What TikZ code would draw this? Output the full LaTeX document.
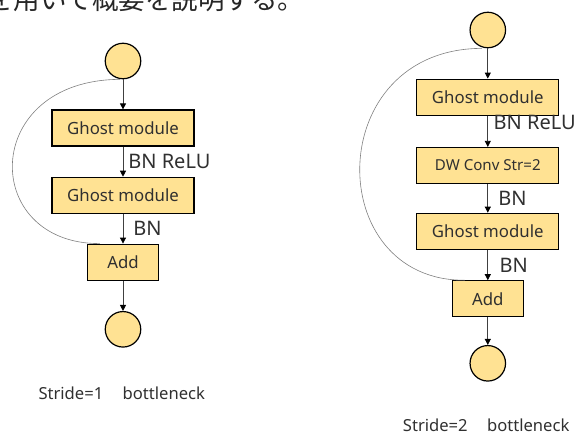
\documentclass[tikz,border=0pt]{standalone}
\usepackage{fontspec}
\setmainfont{Noto Sans}
\newfontfamily\jpfont{Noto Sans CJK JP}
\usetikzlibrary{arrows.meta}
\definecolor{boxfill}{HTML}{FFE293}
\definecolor{txt}{HTML}{303030}
\definecolor{edgec}{HTML}{404040}
\definecolor{shortc}{HTML}{808080}

\begin{document}
\begin{tikzpicture}[x=1pt,y=-1pt,
  blk/.style={draw=black, line width=1.2pt, fill=boxfill, minimum width=142pt,
    minimum height=36pt, inner sep=0pt, text=txt, font=\fontsize{16.8}{18}\selectfont},
  addblk/.style={blk, minimum width=71pt},
  dwblk/.style={blk, font=\fontsize{15.1}{17}\selectfont},
  port/.style={circle, draw=black, line width=1.2pt, fill=boxfill,
    minimum size=35.5pt, inner sep=0pt},
  flowarrow/.style={draw=edgec, line width=0.8pt,
    -{Triangle[length=6pt,width=6pt,color=black]}},
  shortcut/.style={draw=shortc, line width=0.6pt},
  lbl/.style={inner sep=0pt, text=txt, font=\fontsize{20}{22}\selectfont, anchor=west},
  titletxt/.style={inner sep=0pt, text=txt, font=\fontsize{16.6}{18}\selectfont, anchor=west}
]
\useasboundingbox (0,0) rectangle (575,434);

% leading sentence, cut by the top edge
\begin{scope}
  \clip (0,0) rectangle (575,434);
  \node[anchor=base west, inner sep=0pt, text=black!85,
    font=\jpfont\fontsize{26.5}{28}\selectfont] (lead) at (-13,9.5)
    {を用いて概要を説明する。};
\end{scope}

% ---- stride 1 bottleneck ----
\node[port] (in1) at (123,61) {};
\node[blk] (g1a) at (123,128) {Ghost module};
\node[blk] (g1b) at (123,195.3) {Ghost module};
\node[addblk] (add1) at (123,262.2) {Add};
\node[port] (out1) at (123,329.3) {};

\draw[flowarrow] (in1) -- (g1a);
\draw[flowarrow] (g1a) -- node[lbl, xshift=5pt] {BN ReLU} (g1b);
\draw[flowarrow] (g1b) -- node[lbl, xshift=10pt] {BN} (add1);
\draw[flowarrow] (add1) -- (out1);
\draw[shortcut] ([xshift=-3pt]in1.south) .. controls (-20,80) and (-20,244)
  .. ([xshift=13pt]add1.north west);

\node[titletxt] (t1) at (38.3,393) {Stride=1\quad\,bottleneck};

% ---- stride 2 bottleneck ----
\node[port] (in2) at (487.8,30) {};
\node[blk] (g2a) at (487.8,97.2) {Ghost module};
\node[dwblk] (dw2) at (487.8,165.5) {DW Conv Str=2};
\node[blk] (g2b) at (487.8,231.3) {Ghost module};
\node[addblk] (add2) at (487.8,298.8) {Add};
\node[port] (out2) at (487.8,363.3) {};

\draw[flowarrow] (in2) -- (g2a);
\draw[flowarrow] (g2a) -- node[lbl, xshift=5.5pt, yshift=8.6pt] {BN ReLU} (dw2);
\draw[flowarrow] (dw2) -- node[lbl, xshift=10.2pt] {BN} (g2b);
\draw[flowarrow] (g2b) -- node[lbl, xshift=11.5pt] {BN} (add2);
\draw[flowarrow] (add2) -- (out2);
\draw[shortcut] ([xshift=-6pt]in2.south) .. controls (322,49) and (322,281)
  .. ([xshift=13pt]add2.north west);

\node[titletxt] (t2) at (402.7,425.5) {Stride=2\quad\,bottleneck};
\end{tikzpicture}
\end{document}
